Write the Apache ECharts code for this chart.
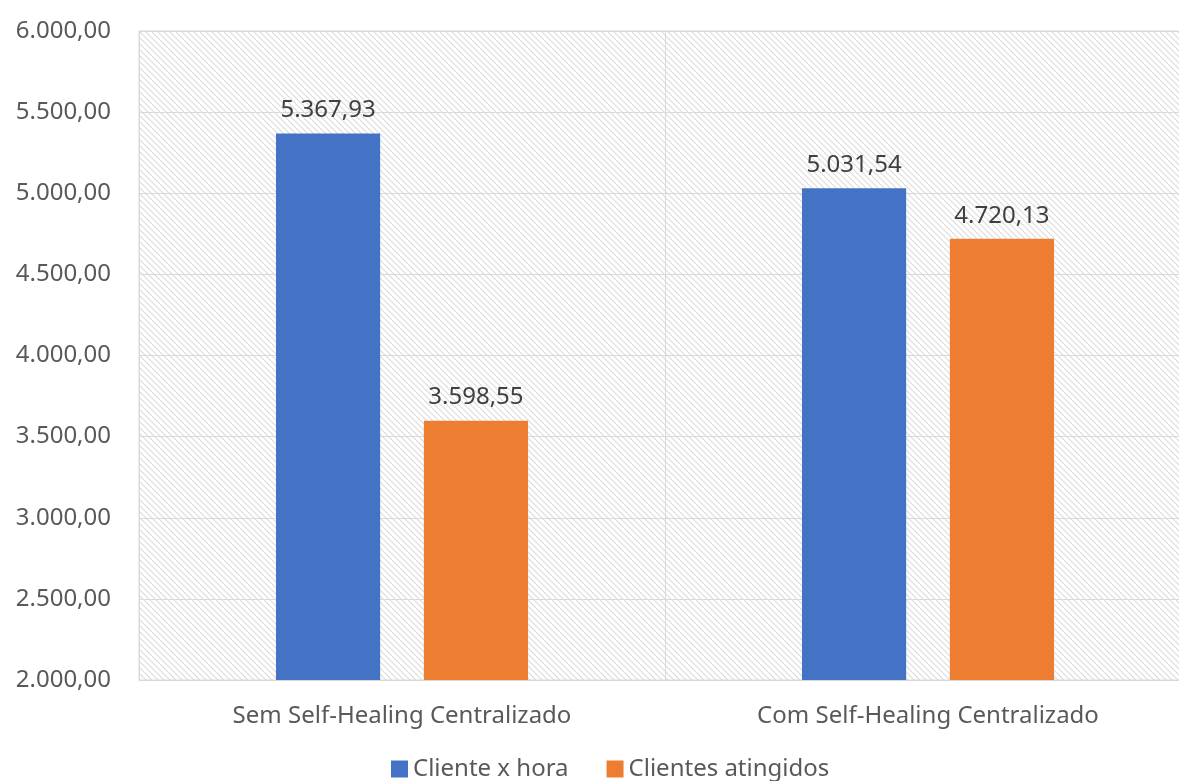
<!DOCTYPE html>
<html>
<head>
<meta charset="utf-8">
<script src="https://cdn.jsdelivr.net/npm/echarts@6/dist/echarts.min.js"></script>
<style>
  html, body { margin: 0; padding: 0; background: #fff; overflow: hidden; }
  #chart { width: 1192px; height: 781px; }
</style>
</head>
<body>
<div id="chart"></div>
<script>
const categories = ['Sem Self-Healing Centralizado', 'Com Self-Healing Centralizado'];
const clienteHora = [5367.93, 5031.54];
const clientesAtingidos = [3598.55, 4720.13];
const seriesNames = ['Cliente x hora', 'Clientes atingidos'];

function fmt(v) {
  const parts = v.toFixed(2).split('.');
  parts[0] = parts[0].replace(/\B(?=(\d{3})+(?!\d))/g, '.');
  return parts.join(',');
}

// diagonal hatch for plot background
const tile = document.createElement('canvas');
tile.width = 6; tile.height = 6;
const ctx = tile.getContext('2d');
ctx.fillStyle = '#ffffff';
ctx.fillRect(0, 0, 6, 6);
ctx.strokeStyle = '#dcdcdc';
ctx.lineWidth = 1.2;
ctx.beginPath();
ctx.moveTo(-1, -1); ctx.lineTo(7, 7);
ctx.moveTo(-4, 2); ctx.lineTo(2, 8);
ctx.moveTo(2, -4); ctx.lineTo(8, 2);
ctx.stroke();

const chart = echarts.init(document.getElementById('chart'));
const fontFamily = '"Noto Sans", "Open Sans", sans-serif';

chart.setOption({
  animation: false,
  textStyle: { fontFamily: fontFamily },
  grid: {
    left: 139, right: 1, top: 31, bottom: 101,
    show: true,
    backgroundColor: { image: tile, repeat: 'repeat' },
    borderColor: '#d9d9d9',
    borderWidth: 1
  },
  legend: {
    top: 752,
    left: 386,
    itemWidth: 17,
    itemHeight: 17,
    itemGap: 38,
    icon: 'rect',
    textStyle: { fontSize: 24, color: '#595959', fontFamily: fontFamily, padding: [0, 0, 14, 0] },
    data: seriesNames
  },
  xAxis: {
    type: 'category',
    data: categories,
    axisLine: { lineStyle: { color: '#d9d9d9' } },
    axisTick: { show: false },
    splitLine: { show: true, lineStyle: { color: '#d9d9d9' } },
    axisLabel: { fontSize: 24, color: '#595959', margin: 24, fontFamily: fontFamily }
  },
  yAxis: {
    type: 'value',
    min: 2000,
    max: 6000,
    interval: 500,
    axisLine: { show: false },
    axisTick: { show: false },
    splitLine: { lineStyle: { color: '#d9d9d9' } },
    axisLabel: {
      fontSize: 24, color: '#595959', margin: 28, fontFamily: fontFamily,
      formatter: fmt
    }
  },
  series: [
    {
      name: seriesNames[0],
      type: 'bar',
      data: clienteHora,
      barWidth: '19.8%',
      barGap: '42%',
      itemStyle: { color: '#4472c4' },
      label: { show: true, position: 'top', distance: 11, fontSize: 24, color: '#404040', formatter: p => fmt(p.value) }
    },
    {
      name: seriesNames[1],
      type: 'bar',
      data: clientesAtingidos,
      barWidth: '19.8%',
      itemStyle: { color: '#ed7d31' },
      label: { show: true, position: 'top', distance: 11, fontSize: 24, color: '#404040', formatter: p => fmt(p.value) }
    }
  ]
});
</script>
</body>
</html>
